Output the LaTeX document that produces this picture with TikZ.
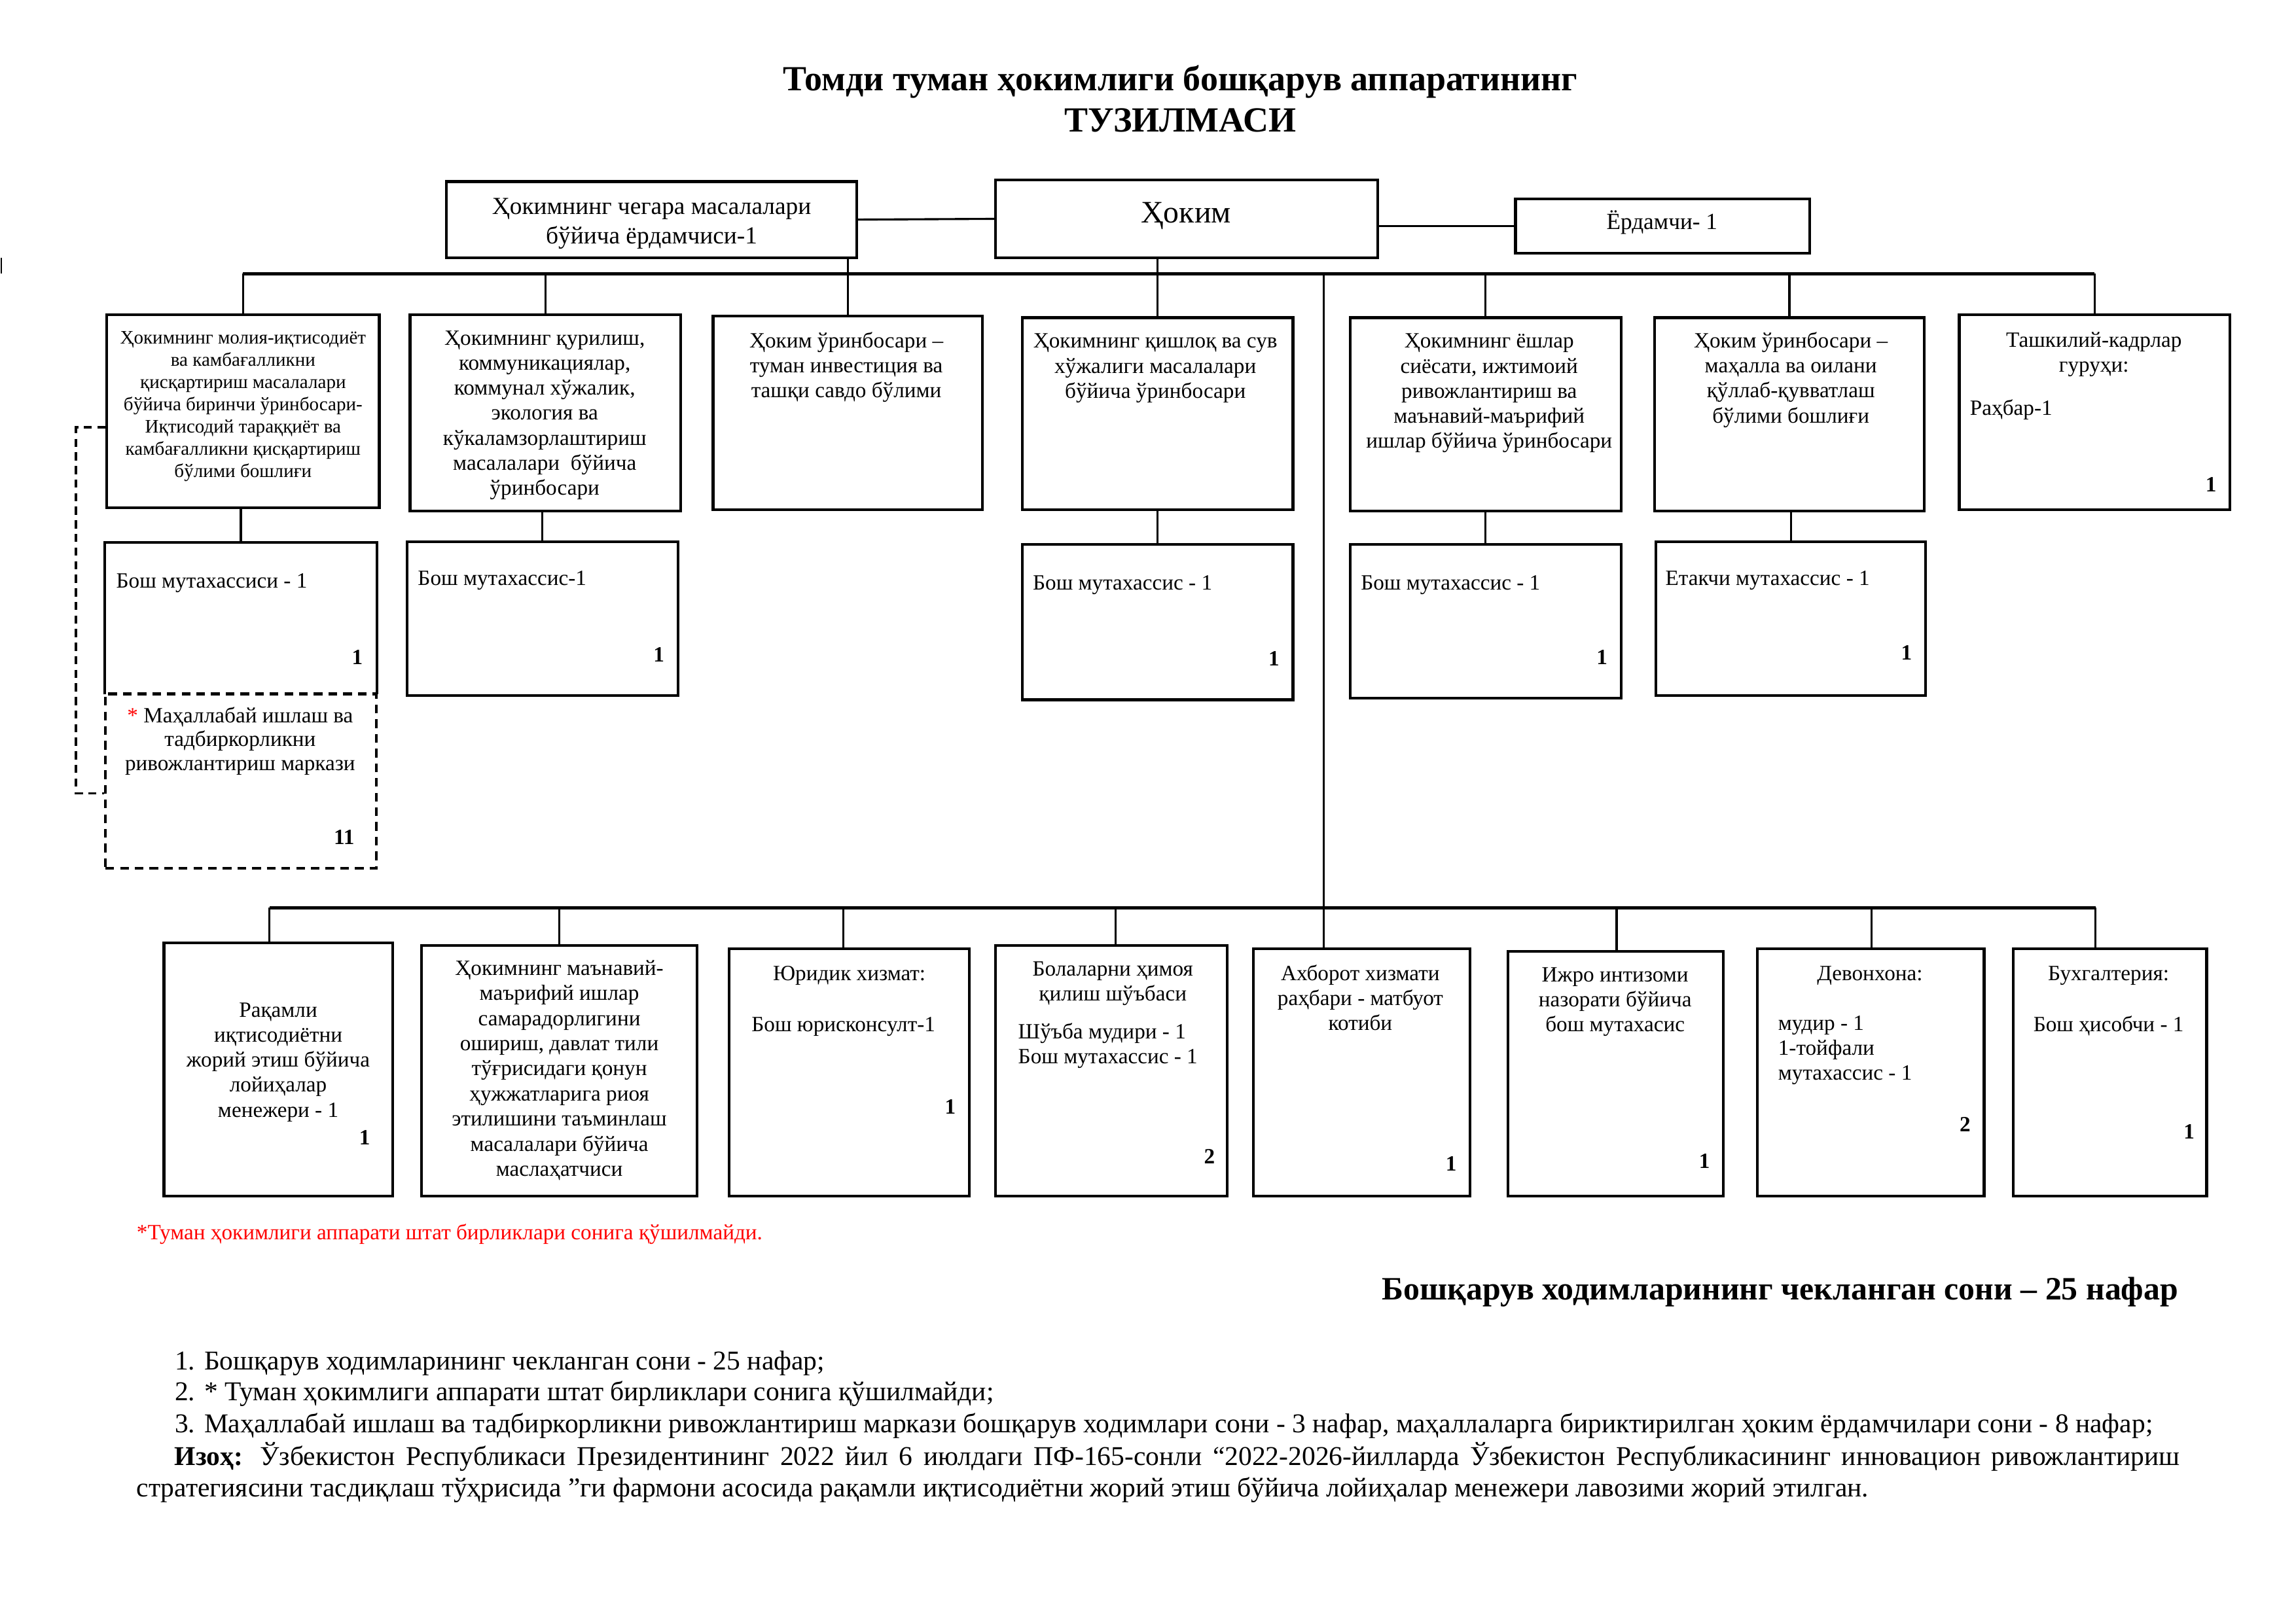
\documentclass[tikz,border=0pt]{standalone}
\usepackage{fontspec}
\setmainfont{Liberation Serif}
\usetikzlibrary{fit}
\begin{document}
\begin{tikzpicture}[x=0.018941cm,y=-0.018941cm,
  box/.style={draw, line width=1pt, inner sep=0pt},
  dbox/.style={draw, line width=1pt, inner sep=0pt, dash pattern=on 3.2pt off 2.2pt},
  conn/.style={line width=0.75pt},
  bus/.style={line width=1.2pt},
  f7/.style={font=\fontsize{7}{8.2}\selectfont},
  f8/.style={font=\fontsize{8}{9.2}\selectfont},
  f9/.style={font=\fontsize{9}{10.8}\selectfont},
  tx/.style={inner sep=0pt, align=center, anchor=north, execute at begin node={\rule{0pt}{1em}}},
  txl/.style={tx, align=left, anchor=north west},
  num/.style={inner sep=0pt, font=\bfseries\fontsize{8}{9}\selectfont}
]
\useasboundingbox (0,0) rectangle (1568,1109);

% title
\node[inner sep=0pt, anchor=base, font=\bfseries\fontsize{13}{15}\selectfont] (title1) at (806,61.7) {Томди туман ҳокимлиги бошқарув аппаратининг};
\node[inner sep=0pt, anchor=base, font=\bfseries\fontsize{13}{15}\selectfont] (title2) at (806,90) {ТУЗИЛМАСИ};

% top row
\node[box, fit={(305,124) (585,176)}] (cg) {};
\node[box, fit={(680,123) (941,176)}] (hk) {};
\node[box, fit={(1035,136) (1236,173)}] (yd) {};
\node[tx, f9] (cgt) at (445,135) {Ҳокимнинг чегара масалалари\\бўйича ёрдамчиси-1};
\node[inner sep=0pt, anchor=base, font=\fontsize{11.5}{13}\selectfont] (hkt) at (810,152) {Ҳоким};
\node[inner sep=0pt, anchor=base, font=\fontsize{8.5}{10}\selectfont] (ydt) at (1135,156.5) {Ёрдамчи- 1};

% second row
\node[box, fit={(73,215) (259,347)}] (b1) {};
\node[box, fit={(280,215) (465,349)}] (b2) {};
\node[box, fit={(487,216) (671,348)}] (b3) {};
\node[box, fit={(698,217) (883,348)}] (b4) {};
\node[box, fit={(922,217) (1107,349)}] (b5) {};
\node[box, fit={(1130,217) (1314,349)}] (b6) {};
\node[box, fit={(1338,215) (1523,348)}] (b7) {};

\node[tx, f7] (b1t) at (166,226) {Ҳокимнинг молия-иқтисодиёт\\ва камбағалликни\\қисқартириш масалалари\\бўйича биринчи ўринбосари-\\Иқтисодий тараққиёт ва\\камбағалликни қисқартириш\\бўлими бошлиғи};
\node[tx, f8] (b2t) at (372,225.6) {Ҳокимнинг қурилиш,\\коммуникациялар,\\коммунал хўжалик,\\экология ва\\кўкаламзорлаштириш\\масалалари~ бўйича\\ўринбосари};
\node[tx, f8] (b3t) at (578,226.6) {Ҳоким ўринбосари –\\туман инвестиция ва\\ташқи савдо бўлими};
\node[tx, f8] (b4t) at (789,227.6) {Ҳокимнинг қишлоқ ва сув\\хўжалиги масалалари\\бўйича ўринбосари};
\node[tx, f8] (b5t) at (1017,227.6) {Ҳокимнинг ёшлар\\сиёсати, ижтимоий\\ривожлантириш ва\\маънавий-маърифий\\ишлар бўйича ўринбосари};
\node[tx, f8] (b6t) at (1223,226.6) {Ҳоким ўринбосари –\\маҳалла ва оилани\\қўллаб-қувватлаш\\бўлими бошлиғи};
\node[tx, f8] (b7t) at (1430,226.6) {Ташкилий-кадрлар\\гуруҳи:};
\node[txl, f8] (b7r) at (1345,268.6) {Раҳбар-1};
\node[num] (b7n) at (1510,331) {1};

% third row
\node[inner sep=0pt, fit={(72,371) (257,474)}] (s1) {};
\draw[line width=1pt] (s1.south west) -- (s1.north west) -- (s1.north east) -- (s1.south east);
\node[dbox, fit={(72,474) (257,593)}] (d1) {};
\node[box, fit={(278,370) (463,475)}] (s2) {};
\node[box, fit={(698,372) (883,478)}] (s4) {};
\node[box, fit={(922,372) (1107,477)}] (s5) {};
\node[box, fit={(1131,370) (1315,475)}] (s6) {};

\node[txl, f8] (s1t) at (79,386.6) {Бош мутахассиси - 1};
\node[num] (s1n) at (244,449) {1};
\node[tx, font=\fontsize{8}{8.8}\selectfont] (d1t) at (164,482.6) {\textcolor{red}{*} Маҳаллабай ишлаш ва\\тадбиркорликни\\ривожлантириш маркази};
\node[num] (d1n) at (235,572) {11};
\node[txl, f8] (s2t) at (285,384.6) {Бош мутахассис-1};
\node[num] (s2n) at (450,447) {1};
\node[txl, f8] (s4t) at (705,387.6) {Бош мутахассис - 1};
\node[num] (s4n) at (870,450) {1};
\node[txl, f8] (s5t) at (929,387.6) {Бош мутахассис - 1};
\node[num] (s5n) at (1094,449) {1};
\node[txl, f8] (s6t) at (1137,384.6) {Етакчи мутахассис - 1};
\node[num] (s6n) at (1302,446) {1};

% bottom row
\node[box, fit={(112,644) (268,817)}] (c1) {};
\node[box, fit={(288,646) (476,817)}] (c2) {};
\node[box, fit={(498,648) (662,817)}] (c3) {};
\node[box, fit={(680,646) (838,817)}] (c4) {};
\node[box, fit={(856,648) (1004,817)}] (c5) {};
\node[box, fit={(1030,650) (1177,817)}] (c6) {};
\node[box, fit={(1200,648) (1355,817)}] (c7) {};
\node[box, fit={(1375,648) (1507,817)}] (c8) {};

\node[tx, f8] (c1t) at (190,684.6) {Рақамли\\иқтисодиётни\\жорий этиш бўйича\\лойиҳалар\\менежери - 1};
\node[num] (c1n) at (249,777) {1};
\node[tx, font=\fontsize{8}{9.25}\selectfont] (c2t) at (382,655.6) {Ҳокимнинг маънавий-\\маърифий ишлар\\самарадорлигини\\ошириш, давлат тили\\тўғрисидаги қонун\\ҳужжатларига риоя\\этилишини таъминлаш\\масалалари бўйича\\маслаҳатчиси};
\node[tx, f8] (c3t) at (580,654.6) {Юридик хизмат:};
\node[tx, f8] (c3r) at (576,689.6) {Бош юрисконсулт-1};
\node[num] (c3n) at (649,756) {1};
\node[tx, f8] (c4t) at (760,656.6) {Болаларни ҳимоя\\қилиш шўъбаси};
\node[txl, f8] (c4r) at (695,698.6) {Шўъба мудири - 1\\Бош мутахассис - 1};
\node[num] (c4n) at (826,790) {2};
\node[tx, f8] (c5t) at (929,658.6) {Ахборот хизмати\\раҳбари - матбуот\\котиби};
\node[num] (c5n) at (991,795) {1};
\node[tx, f8] (c6t) at (1103,660.6) {Ижро интизоми\\назорати бўйича\\бош мутахасис};
\node[num] (c6n) at (1164,793) {1};
\node[tx, f8] (c7t) at (1277,654.6) {Девонхона:};
\node[txl, f8] (c7r) at (1214,693.6) {мудир - 1\\1-тойфали\\мутахассис - 1};
\node[num] (c7n) at (1342,768) {2};
\node[tx, f8] (c8t) at (1440,654.6) {Бухгалтерия:};
\node[tx, f8] (c8r) at (1440,689.6) {Бош ҳисобчи - 1};
\node[num] (c8n) at (1495,773) {1};

% connectors
\coordinate (bus) at (0,187);
\coordinate (spine) at (904,187);
\draw[conn] (cg.east) -- (hk.west);
\draw[conn] (yd.west) -- (yd.west -| hk.east);
\draw[bus] (b1.north |- bus) -- (b7.north |- bus);
\foreach \n in {b1,b2,b5,b6,b7} \draw[conn] (\n.north) -- (\n.north |- bus);
\draw[conn] (b3.north) -- (b3.north |- cg.south);
\draw[conn] (b4.north) -- (b4.north |- hk.south);
\draw[conn] (spine) -- (spine |- c5.north);
\draw[conn] (s1.north) -- (s1.north |- b1.south);
\draw[conn] (s2.north) -- (s2.north |- b2.south);
\draw[conn] (s4.north) -- (s4.north |- b4.south);
\draw[conn] (s5.north) -- (s5.north |- b5.south);
\draw[conn] (s6.north) -- (s6.north |- b6.south);
\coordinate (dtop) at (52,292);
\coordinate (dbot) at (52,542);
\draw[line width=0.9pt, dash pattern=on 3pt off 2pt] (b1.west |- dtop) -- (dtop) -- (dbot) -- (d1.west |- dbot);

\coordinate (l1) at (184,620);
\coordinate (l2) at (382,620);
\coordinate (l3) at (576,620);
\coordinate (l4) at (762,620);
\coordinate (l6) at (1104,620);
\coordinate (l7) at (1278,620);
\coordinate (l8) at (1431,620);
\draw[bus] (l1) -- (l8);
\draw[conn] (l1) -- (l1 |- c1.north);
\draw[conn] (l2) -- (l2 |- c2.north);
\draw[conn] (l3) -- (l3 |- c3.north);
\draw[conn] (l4) -- (l4 |- c4.north);
\draw[conn] (l6) -- (l6 |- c6.north);
\draw[conn] (l7) -- (l7 |- c7.north);
\draw[conn] (l8) -- (l8 |- c8.north);

\coordinate (m1) at (1,176);
\coordinate (m2) at (1,187);
\draw[line width=0.6pt] (m1) -- (m2);

% notes
\node[txl, font=\fontsize{8}{9.2}\selectfont, text=red] (red) at (93,831.6) {*Туман ҳокимлиги аппарати штат бирликлари сонига қўшилмайди.};
\node[inner sep=0pt, anchor=base east, font=\bfseries\fontsize{12}{14}\selectfont] (sum) at (1488,887.7) {Бошқарув ходимларининг чекланган сони – 25 нафар};
\node[inner sep=0pt, anchor=base west, font=\fontsize{10}{11.5}\selectfont] (n1) at (119,935.6) {1. Бошқарув ходимларининг чекланган сони - 25 нафар;};
\node[inner sep=0pt, anchor=base west, font=\fontsize{10}{11.5}\selectfont] (n2) at (119,956.6) {2. * Туман ҳокимлиги аппарати штат бирликлари сонига қўшилмайди;};
\node[inner sep=0pt, anchor=base west, font=\fontsize{10}{11.5}\selectfont] (n3) at (119,978.6) {3. Маҳаллабай ишлаш ва тадбиркорликни ривожлантириш маркази бошқарув ходимлари сони - 3 нафар, маҳаллаларга бириктирилган ҳоким ёрдамчилари сони - 8 нафар;};
\node[inner sep=0pt, anchor=north west, text width=26.42cm, align=justify, font=\fontsize{10}{11.5}\selectfont] (n4) at (93,982) {\rule{0pt}{1em}\hspace*{0.49cm}\textbf{Изоҳ:} Ўзбекистон Республикаси Президентининг 2022 йил 6 июлдаги ПФ-165-сонли “2022-2026-йилларда Ўзбекистон Республикасининг инновацион ривожлантириш\linebreak стратегиясини тасдиқлаш тўҳрисида ”ги фармони асосида рақамли иқтисодиётни жорий этиш бўйича лойиҳалар менежери лавозими жорий этилган.};
\end{tikzpicture}
\end{document}
